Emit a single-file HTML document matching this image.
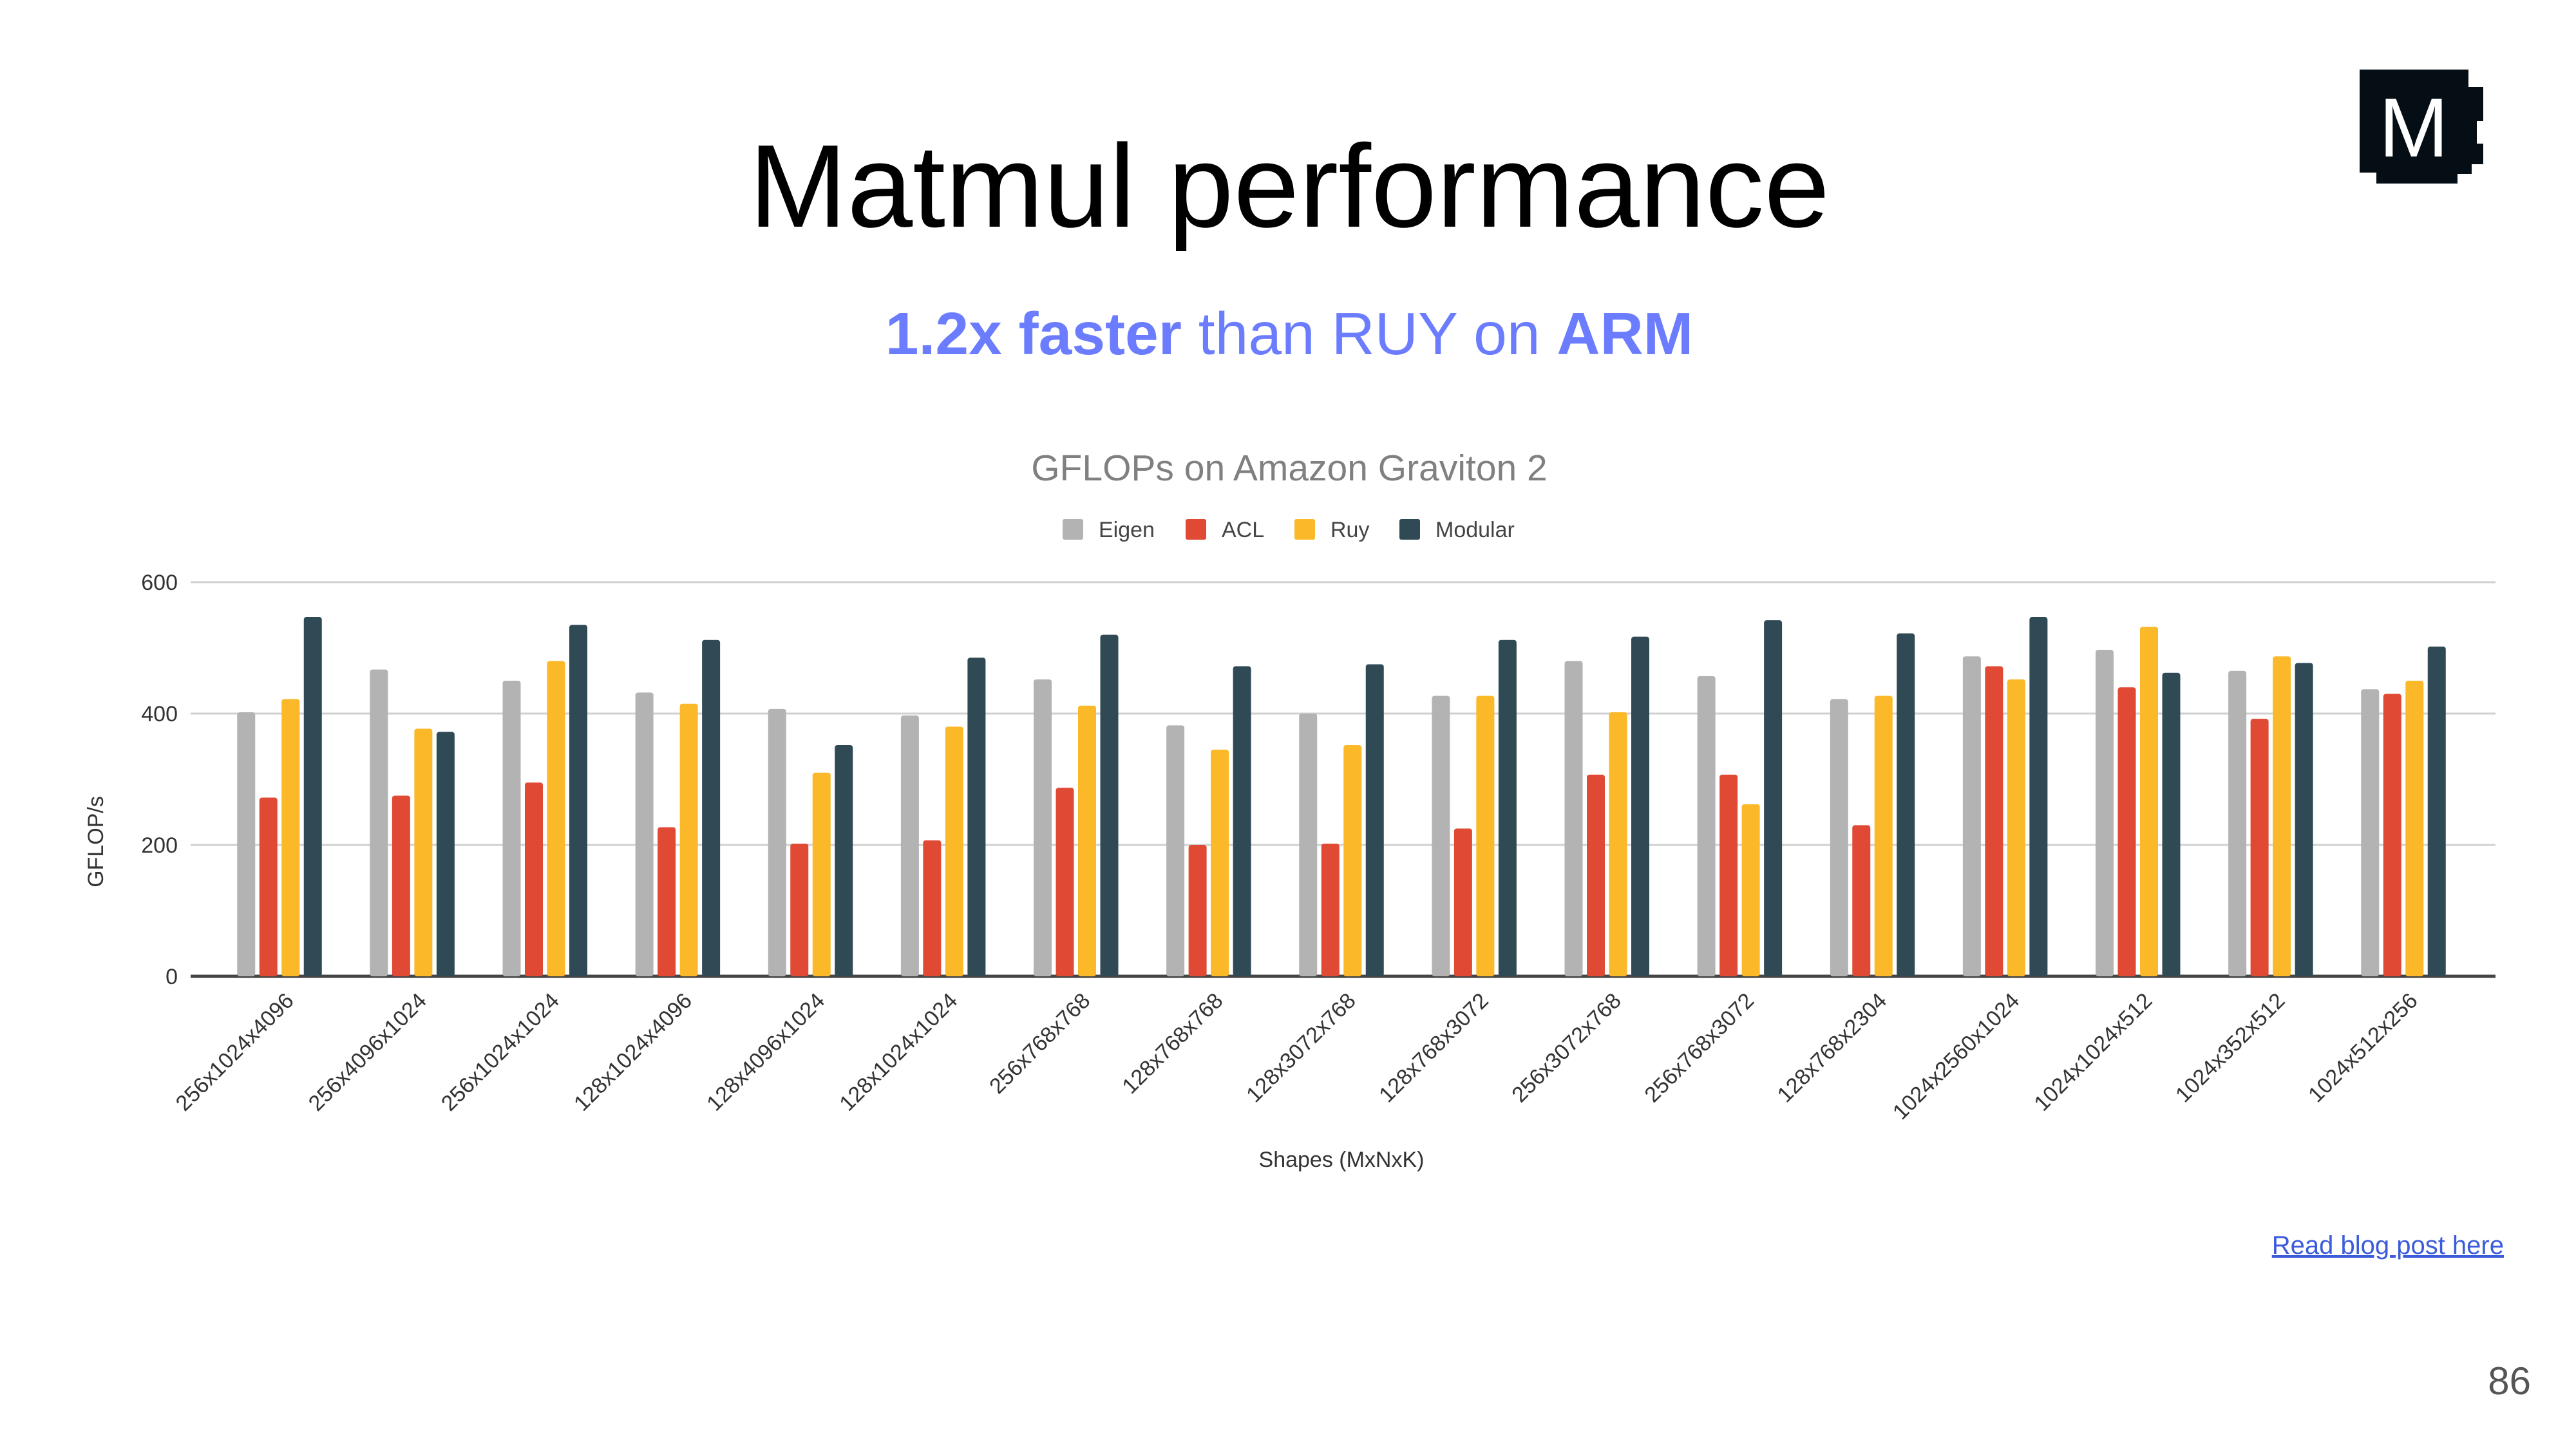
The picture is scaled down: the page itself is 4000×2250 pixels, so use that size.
<!DOCTYPE html>
<html><head><meta charset="utf-8"><style>
html,body{margin:0;padding:0;background:#fff;}
svg{display:block;font-family:"Liberation Sans",sans-serif;}
</style></head><body>
<svg id="chart" width="4000" height="2250" viewBox="0 0 4000 2250" xmlns="http://www.w3.org/2000/svg">
<g>
<rect x="3664" y="108" width="169" height="160" fill="#050e14"/>
<rect x="3833" y="135" width="23" height="53" fill="#050e14"/>
<rect x="3833" y="188" width="13" height="35" fill="#050e14"/>
<rect x="3833" y="223" width="23" height="32" fill="#050e14"/>
<rect x="3690" y="268" width="126" height="17" fill="#050e14"/>
<rect x="3816" y="255" width="22" height="15" fill="#050e14"/>
<text x="3748" y="243" font-size="130" fill="#fff" text-anchor="middle">M</text>
</g>
<text x="2002" y="352" font-size="183" text-anchor="middle" fill="#000">Matmul performance</text>
<text x="2002" y="550" font-size="93" text-anchor="middle" fill="#6b7cff"><tspan font-weight="bold">1.2x faster</tspan> than RUY on <tspan font-weight="bold">ARM</tspan></text>
<text x="2002" y="746" font-size="57" text-anchor="middle" fill="#808080">GFLOPs on Amazon Graviton 2</text>
<g id="legend"></g>
<g id="grid"></g>
<g id="bars"></g>
<g id="xlabels"></g>
<text x="2083" y="1812" font-size="34" text-anchor="middle" fill="#333">Shapes (MxNxK)</text>
<text x="0" y="0" font-size="34" text-anchor="middle" fill="#333" transform="translate(160,1307) rotate(-90)">GFLOP/s</text>
<text x="3888" y="1947" font-size="40" text-anchor="end" fill="#3b5bdb" text-decoration="underline">Read blog post here</text>
<text x="3930" y="2165" font-size="60" text-anchor="end" fill="#555">86</text>
</svg>
<script>
const categories=["256x1024x4096","256x4096x1024","256x1024x1024","128x1024x4096","128x4096x1024","128x1024x1024","256x768x768","128x768x768","128x3072x768","128x768x3072","256x3072x768","256x768x3072","128x768x2304","1024x2560x1024","1024x1024x512","1024x352x512","1024x512x256"];
const seriesNames=["Eigen","ACL","Ruy","Modular"];
const eigen=[402,467,450,432,407,397,452,382,400,427,480,457,422,487,497,465,437];
const acl=[272,275,295,227,202,207,287,200,202,225,307,307,230,472,440,392,430];
const ruy=[422,377,480,415,310,380,412,345,352,427,402,262,427,452,532,487,450];
const modular=[547,372,535,512,352,485,520,472,475,512,517,542,522,547,462,477,502];
const yTicks=[0,200,400,600];
const colors=["#b3b3b3","#e04a35","#fbb829","#2f4a55"];
const NS="http://www.w3.org/2000/svg";
const X0=296,X1=3875,Y0=1516,Y600=904;
const y=v=>Y0-(v/600)*(Y0-Y600);
const first=434,last=3732;
const cx=i=>first+i*(last-first)/(categories.length-1);
const BW=28,STEP=34.5;
function mk(t,a,p){const e=document.createElementNS(NS,t);for(const k in a)e.setAttribute(k,a[k]);p.appendChild(e);return e;}
const grid=document.getElementById('grid');
yTicks.forEach(t=>{
 const l=mk('line',{x1:X0,x2:X1,y1:y(t),y2:y(t),stroke:t===0?'#444':'#d0d0d0','stroke-width':t===0?5:3},grid);
 
 
 const tx=mk('text',{x:276,y:y(t)+12,'font-size':34,'text-anchor':'end',fill:'#333'},grid);
 tx.textContent=t;
 
 
});
const series=[eigen,acl,ruy,modular];
const bars=document.getElementById('bars');
const xl=document.getElementById('xlabels');
categories.forEach((c,i)=>{
 series.forEach((s,j)=>{
  const bx=cx(i)+(j-1.5)*STEP-BW/2;
  const r=mk('rect',{x:bx,y:y(s[i]),width:BW,height:Y0-y(s[i]),fill:colors[j],rx:4},bars);
  
  
 });
 const t=mk('text',{x:0,y:0,'font-size':34,'text-anchor':'end',fill:'#333',transform:`translate(${cx(i)+24},${Y0+40}) rotate(-45)`},xl);
 t.textContent=c;
 
 
});
const lg=document.getElementById('legend');
const lx=[1650,1841,2010,2173];
seriesNames.forEach((n,j)=>{
 const r=mk('rect',{x:lx[j],y:806,width:32,height:32,fill:colors[j],rx:3},lg);
 
 
 const t=mk('text',{x:lx[j]+56,y:834,'font-size':34,fill:'#444'},lg);
 t.textContent=n;
 
 
});
</script>
</body></html>
